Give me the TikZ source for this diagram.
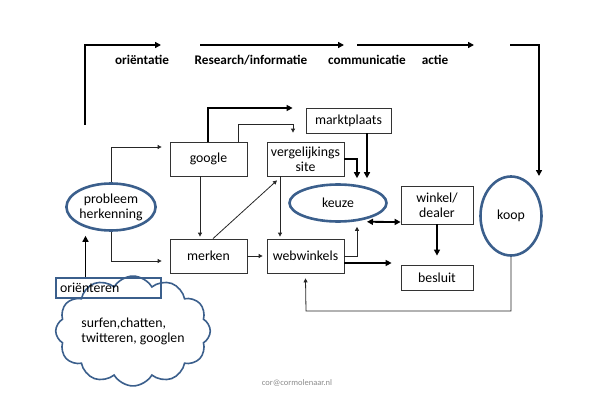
\documentclass[tikz,border=0pt]{standalone}
\usepackage{fontspec}
\setmainfont{Carlito}
\usetikzlibrary{arrows.meta,shapes.geometric,shapes.symbols}
\definecolor{ovalblue}{HTML}{3B5F8C}
\begin{document}
\begin{tikzpicture}[
	x=1pt, y=-1pt,
	font=\fontsize{13.8}{15}\selectfont
]
\tikzset{
    boxn/.style = {rectangle, draw=black!80, line width=0.8pt, align=center, inner sep=0pt},
    ovalb/.style = {ellipse, draw=ovalblue, line width=2.6pt, align=center, inner sep=0pt},
    edgel/.style = {-, line width=0.8pt, black!85},
    edgen/.style = {-{Triangle[length=4pt,width=4pt]}, line width=0.8pt, black!85},
    edgeb/.style = {-{Triangle[length=6pt,width=6pt]}, line width=1.8pt},
    edged/.style = {{Triangle[length=6pt,width=6pt]}-{Triangle[length=6pt,width=6pt]}, line width=1.8pt},
    labelt/.style = {font=\fontsize{13.2}{15}\selectfont\bfseries},
}
\useasboundingbox (0,0) rectangle (595,420);
% top row
\coordinate (t1) at (85,125);
\coordinate (t1e) at (161,45);
\coordinate (t2) at (200,45);
\coordinate (t2e) at (344,45);
\coordinate (t3) at (357,45);
\coordinate (t3e) at (474,45);
\coordinate (t4) at (510,45);
\coordinate (t4e) at (539,176);
\node[labelt] at (142,60) (l1) {oriëntatie};
\node[labelt] at (251,60) (l2) {Research/informatie};
\node[labelt] at (367,60) (l3) {communicatie};
\node[labelt] at (435,60) (l4) {actie};
%
\node[boxn, minimum width=77pt, minimum height=34pt] at (208.5,159) (google) {google};
\node[boxn, minimum width=77pt, minimum height=34pt] at (305.5,159) (vergelijk) {vergelijkings\\site};
\node[boxn, minimum width=85pt, minimum height=25pt] at (348.5,120.5) (markt) {marktplaats};
\node[boxn, minimum width=77pt, minimum height=34pt] at (208.5,256) (merken) {merken};
\node[boxn, minimum width=77pt, minimum height=34pt] at (305.5,256) (webwinkels) {webwinkels};
\node[boxn, minimum width=72pt, minimum height=38pt] at (437,205) (winkel) {winkel/\\dealer};
\node[boxn, minimum width=72pt, minimum height=25pt] at (437,277.5) (besluit) {besluit};
\node[ovalb, minimum width=97pt, minimum height=37pt] at (338,203) (keuze) {keuze};
\node[ovalb, minimum width=61pt, minimum height=79pt] at (511,216) (koop) {koop};
\node[ovalb, minimum width=83pt, minimum height=47pt] at (111,207) (probleem) {probleem\\herkenning};
\node[cloud, cloud puffs=12, cloud puff arc=120, aspect=1.6, draw=ovalblue, line width=1.6pt,
      fill=white, minimum width=128pt, minimum height=82pt, inner sep=0pt, align=left]
      at (133,331) (cloud) {surfen,chatten,\\twitteren, googlen};
\node[rectangle, draw=ovalblue, line width=2.6pt, minimum width=105pt, minimum height=20pt,
      text width=97pt, inner xsep=4pt, inner ysep=0pt, align=left] at (108.5,288) (orient) {oriënteren};
\node[font=\fontsize{8.5}{10}\selectfont, text=black!45] at (297,383) (mail) {cor@cormolenaar.nl};
\coordinate (back) at (306,311);
%
\draw[edgeb] (t1) |- (t1e);
\draw[edgeb] (t2) -- (t2e);
\draw[edgeb] (t3) -- (t3e);
\draw[edgeb] (t4) -| (t4e);
%
\draw[edgen] (probleem.north) |- ([xshift=-8pt,yshift=12pt]google.west);
\draw[edgen] (probleem.south) |- ([xshift=-8pt,yshift=-5pt]merken.west);
\draw[edgeb, shorten >=4pt] ([xshift=-23pt]orient.north) -- ([xshift=-23pt]orient.north |- probleem.south);
%
\draw[edgeb] ([xshift=-0.5pt]google.north) |- ([xshift=-13pt,yshift=12.5pt]markt.west);
\draw[edgen] ([xshift=29.5pt]google.north) |- ([xshift=-12.5pt,yshift=17pt]vergelijk.north) -- ([xshift=-12.5pt,yshift=9pt]vergelijk.north);
\draw[edgen, shorten >=2pt] ([xshift=-8.5pt]google.south) -- ([xshift=-8.5pt]merken.north);
\draw[edgen] ([xshift=4.5pt]merken.north) -- ([xshift=-28.5pt,yshift=-4pt]vergelijk.south);
\draw[edgen, shorten >=2pt] ([xshift=-25.5pt]vergelijk.south) -- ([xshift=-25.5pt]webwinkels.north);
\draw[edgen, shorten >=4pt] (merken.east) -- (webwinkels.west);
%
\draw[edgeb] (vergelijk.east) -| ([xshift=19pt,yshift=5pt]keuze.north);
\draw[edgeb] ([xshift=18.5pt]markt.south) -- ([xshift=29pt,yshift=5pt]keuze.north);
\draw[edgen] (webwinkels.east) -| ([xshift=19pt,yshift=-4pt]keuze.south);
\draw[edged] ([xshift=29pt,yshift=1pt]keuze.south) -- ([yshift=-17pt]winkel.west);
\draw[edgeb, shorten >=9pt] (winkel.south) -- (besluit.north);
\draw[edgeb] ([yshift=-7pt]webwinkels.east) -- ([xshift=-9pt,yshift=14.5pt]besluit.west);
\draw[edgen] (koop.south) |- (back) -- ([yshift=-5pt]webwinkels.south);
\end{tikzpicture}
\end{document}
